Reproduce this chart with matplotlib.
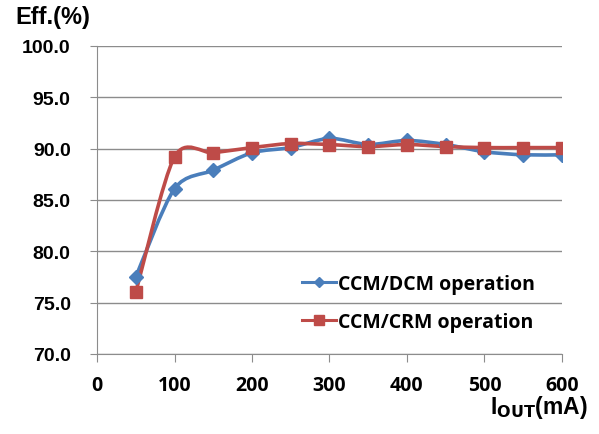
import matplotlib
matplotlib.use("Agg")
import matplotlib.pyplot as plt
from matplotlib.path import Path
from matplotlib.patches import PathPatch
from matplotlib.lines import Line2D
import numpy as np

plt.rcParams['font.family'] = ['Liberation Sans', 'DejaVu Sans']

iout = [50, 100, 150, 200, 250, 300, 350, 400, 450, 500, 550, 600]
eff_dcm = [77.5, 86.1, 87.9, 89.6, 90.1, 91.0, 90.4, 90.8, 90.4, 89.7, 89.4, 89.4]
eff_crm = [76.0, 89.2, 89.6, 90.1, 90.5, 90.4, 90.2, 90.4, 90.2, 90.1, 90.1, 90.1]
labels = ["CCM/DCM operation", "CCM/CRM operation"]
colors = ["#4A7EBB", "#BE4B48"]
markers = ["D", "s"]
xticks = [0, 100, 200, 300, 400, 500, 600]
yticks = [70, 75, 80, 85, 90, 95, 100]

CAL = ['Open Sans', 'DejaVu Sans']


def smooth_path(x, y, k=1 / 7.0):
    pts = np.column_stack([x, y]).astype(float)
    verts = [pts[0]]
    codes = [Path.MOVETO]
    n = len(pts)
    for i in range(n - 1):
        p0 = pts[i - 1] if i > 0 else pts[i]
        p1 = pts[i]
        p2 = pts[i + 1]
        p3 = pts[i + 2] if i + 2 < n else pts[i + 1]
        c1 = p1 + (p2 - p0) * k
        c2 = p2 - (p3 - p1) * k
        verts += [c1, c2, p2]
        codes += [Path.CURVE4] * 3
    return Path(verts, codes)


fig = plt.figure(figsize=(5.99, 4.35), dpi=100)
ax = fig.add_axes([0.162, 0.184, 0.776, 0.708])

msz = {"D": 7, "s": 8}
for ys, col, mk in zip([eff_dcm, eff_crm], colors, markers):
    ax.add_patch(PathPatch(smooth_path(iout, ys), facecolor='none',
                           edgecolor=col, lw=2.6, zorder=3))
    ax.plot(iout, ys, linestyle='none', marker=mk, color=col,
            markersize=msz[mk], zorder=4)

ax.set_xlim(0, 600)
ax.set_ylim(70, 100)
ax.set_xticks(xticks)
ax.set_yticks(yticks)
ax.set_xticklabels([str(v) for v in xticks], fontsize=14, fontweight='bold',
                   family=CAL)
ax.set_yticklabels([f"{v:.1f}" for v in yticks], fontsize=14, fontweight='bold')
ax.yaxis.grid(True, color='#8C8C8C', lw=1)
ax.set_axisbelow(True)
for s in ['top', 'right']:
    ax.spines[s].set_visible(False)
for s in ['left', 'bottom']:
    ax.spines[s].set_color('#8C8C8C')
ax.tick_params(axis='y', length=5, color='#8C8C8C', pad=14)
ax.tick_params(axis='x', length=6, color='#8C8C8C', pad=9, direction='out')

fig.text(0.025, 0.945, "Eff.(%)", fontsize=17, fontweight='bold')
fig.text(0.982, 0.048, r"I$_{\mathbf{OUT}}$(mA)", fontsize=16.5, fontweight='bold',
         ha='right', va='baseline')

handles = [Line2D([], [], color=c, lw=2.2, marker=m,
                  markersize=5 if m == 'D' else 6.5)
           for c, m in zip(colors, markers)]
leg = ax.legend(handles, labels, loc='center left', bbox_to_anchor=(0.441, 0.166),
                frameon=False, prop={'size': 14, 'weight': 'bold', 'family': CAL},
                handlelength=1.75, handletextpad=0.1, labelspacing=0.95,
                borderpad=0, borderaxespad=0)

fig.savefig("out.png", dpi=100)
